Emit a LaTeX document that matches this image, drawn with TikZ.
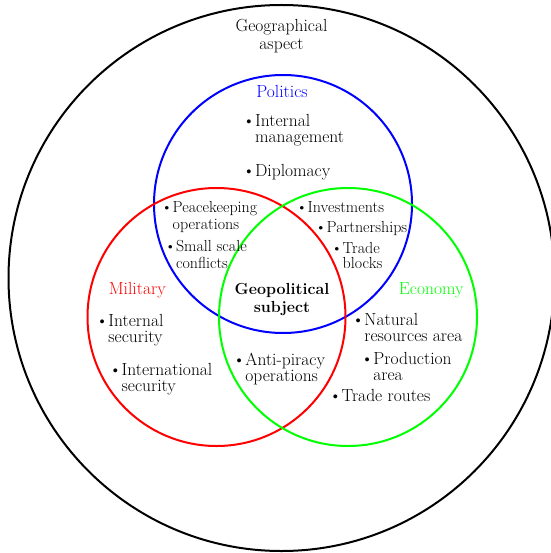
\documentclass[tikz,border=0pt]{standalone}
\usepackage{tikz}
\usetikzlibrary{positioning}

\newcommand{\bitem}[1]{\textbullet\begin{tabular}[t]{@{}l@{}}#1\end{tabular}}
\newcommand{\clines}[1]{\begin{tabular}[t]{@{}c@{}}#1\end{tabular}}

\tikzset{
  ring/.style={line width=2pt},
  lbl/.style={anchor=base, inner sep=0pt, font=\fontsize{17.5}{16}\selectfont},
  itm/.style={anchor=base west, inner sep=0pt, font=\fontsize{17.5}{16}\selectfont},
  smallitm/.style={itm, font=\fontsize{16}{17}\selectfont}
}

\begin{document}
\begin{tikzpicture}[x=1pt, y=-1pt]
\useasboundingbox (0,0) rectangle (550,553);

% the four sets
\draw[ring, black] (281.5,278) circle (273);
\draw[ring, blue] (283,204) circle (129);
\draw[ring, red] (216.5,317) circle (129);
\draw[ring, green] (348,317) circle (129);

% set titles
\node (geo) [lbl] at (281.5,31.7) {\clines{Geographical\\[2pt]aspect}};
\node (politics) [lbl, text=blue] at (282,97.3) {Politics};
\node (military) [lbl, text=red] at (137.3,294) {Military};
\node (economy) [lbl, text=green] at (431.3,294) {Economy};
\node (subject) [lbl, font=\fontsize{16}{18.3}\selectfont\bfseries] at (282,294) {\clines{Geopolitical\\subject}};

% politics
\node (intmgmt) [itm] at (242.3,126.7) {\bitem{Internal\\management}};
\node (diplomacy) [itm] at (242.3,176.7) {\bitem{Diplomacy}};

% politics and military
\node (peacekeeping) [smallitm] at (161,212.3) {\bitem{Peacekeeping\\operations}};
\node (smallscale) [smallitm] at (164.3,251.7) {\bitem{Small scale\\conflicts}};

% politics and economy
\node (investments) [smallitm] at (296,212.3) {\bitem{Investments}};
\node (partnerships) [smallitm] at (315,232.3) {\bitem{Partnerships}};
\node (tradeblocks) [smallitm, font=\fontsize{16}{15}\selectfont] at (331,253) {\bitem{Trade\\blocks}};

% military
\node (intsecurity) [itm] at (95.6,326.7) {\bitem{Internal\\security}};
\node (intlsecurity) [itm] at (108.9,375.7) {\bitem{International\\security}};

% military and economy
\node (antipiracy) [itm] at (232.6,365) {\bitem{Anti-piracy\\operations}};

% economy
\node (natural) [itm] at (351.6,325) {\bitem{Natural\\resources area}};
\node (production) [itm] at (360.6,364) {\bitem{Production\\area}};
\node (traderoutes) [itm] at (328.9,401.7) {\bitem{Trade routes}};
\end{tikzpicture}
\end{document}
